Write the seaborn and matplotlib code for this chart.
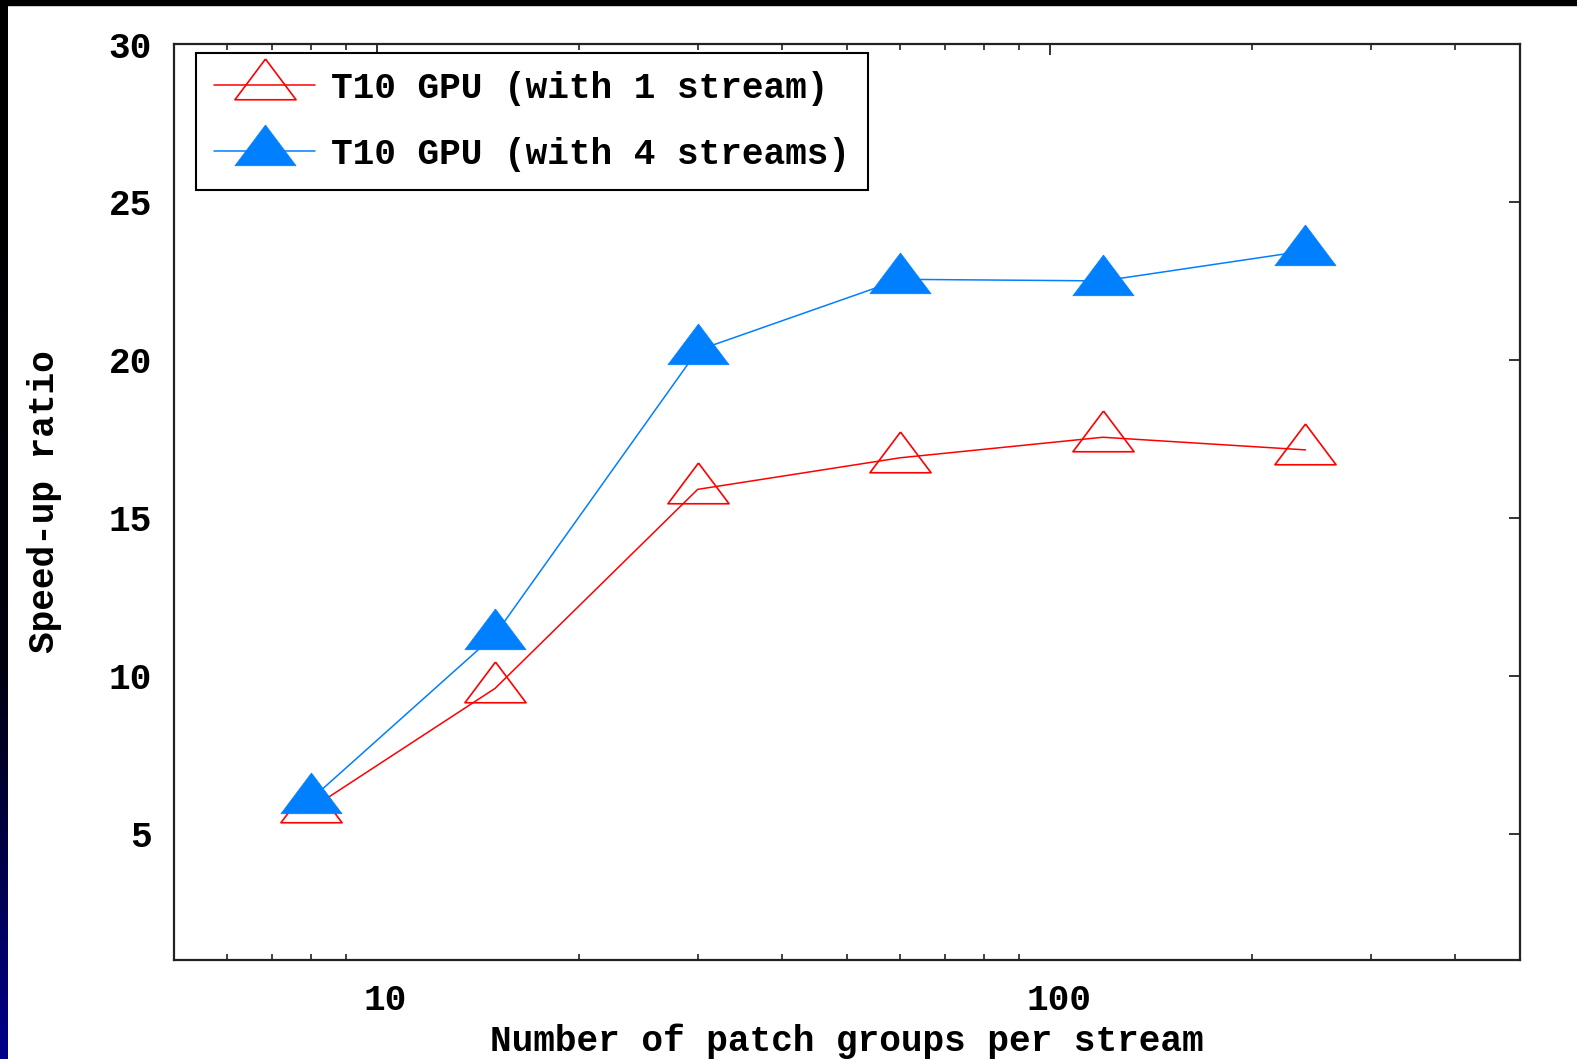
import numpy as np
import pandas as pd
import matplotlib
matplotlib.use("Agg")
import matplotlib.pyplot as plt
from matplotlib.colors import LinearSegmentedColormap
from matplotlib.patches import Rectangle
from matplotlib.transforms import ScaledTranslation
from matplotlib.ticker import FixedLocator, NullFormatter, LogLocator
import seaborn as sns

# ---- data ----
patch_groups = [8, 15, 30, 60, 120, 240]
speedup_1_stream = [5.8, 9.6, 15.9, 16.9, 17.55, 17.15]
speedup_4_streams = [6.1, 11.3, 20.3, 22.55, 22.5, 23.45]
label_1 = "T10 GPU (with 1 stream)"
label_4 = "T10 GPU (with 4 streams)"
x_label = "Number of patch groups per stream"
y_label = "Speed-up ratio"
y_ticks = [5, 10, 15, 20, 25, 30]
x_ticks = [10, 100]
x_tick_labels = ["10", "100"]

sns.set_style("white")
plt.rcParams["font.family"] = ["Liberation Mono", "DejaVu Sans Mono"]
plt.rcParams["font.weight"] = "bold"
plt.rcParams["axes.labelweight"] = "bold"
plt.rcParams["text.color"] = "black"
plt.rcParams["axes.labelcolor"] = "black"
FS = 26

W, H = 1577, 1059
fig = plt.figure(figsize=(W / 100, H / 100), dpi=100, facecolor="white")
fig.subplots_adjust(left=174 / W, right=1520 / W, bottom=1 - 960 / H, top=1 - 44 / H)
ax = fig.add_subplot(111)
ax.set_facecolor("white")

# gnuplot-like triangle marker: wider than tall, data point ~2/3 down
tri = [(0, 1.3), (-1.5, -0.7), (1.5, -0.7), (0, 1.3)]

df1 = pd.DataFrame({"x": patch_groups, "y": speedup_1_stream})
df4 = pd.DataFrame({"x": patch_groups, "y": speedup_4_streams})

red = "#ff0000"
blue = "#0080ff"

sns.lineplot(data=df1, x="x", y="y", ax=ax, color=red, lw=1.1,
             marker=tri, markersize=44, markerfacecolor="none",
             markeredgecolor=red, markeredgewidth=1.2, label=label_1)
sns.lineplot(data=df4, x="x", y="y", ax=ax, color=blue, lw=1.1,
             marker=tri, markersize=44, markerfacecolor=blue,
             markeredgecolor=blue, markeredgewidth=0.5, label=label_4)

ax.set_xscale("log")
ax.set_xlim(5, 500)
ax.set_ylim(1, 30)

ax.xaxis.set_major_locator(FixedLocator(x_ticks))
ax.set_xticklabels(x_tick_labels)
ax.xaxis.set_minor_locator(LogLocator(base=10, subs=np.arange(2, 10)))
ax.xaxis.set_minor_formatter(NullFormatter())
ax.set_yticks(y_ticks)
ax.set_yticklabels([str(v) for v in y_ticks])

ax.tick_params(axis="both", which="major", direction="in", length=8, width=1.3,
               color="#222222", top=True, right=True, labelsize=FS, labelcolor="black")
ax.tick_params(axis="x", which="major", pad=16.5)
ax.tick_params(axis="y", which="major", pad=16)
ax.tick_params(axis="x", which="minor", direction="in", length=4.5, width=1.2,
               color="#222222", top=True, bottom=True)
ax.tick_params(axis="y", which="minor", left=False, right=False)

for s in ax.spines.values():
    s.set_visible(True)
    s.set_color("#222222")
    s.set_linewidth(1.6)

ax.set_xlabel(x_label, fontsize=FS, color="black", fontweight="bold", va="baseline")
ax.xaxis.set_label_coords(0.5, -(1051 - 960) / 916)
ax.set_ylabel(y_label, fontsize=FS, color="black", fontweight="bold")
ax.yaxis.set_label_coords(-0.083, 0.5)

leg = ax.legend(loc="upper left", bbox_to_anchor=(22 / 1346, 1 - 9 / 916),
                borderaxespad=0, fontsize=FS, frameon=True, fancybox=False,
                edgecolor="black", framealpha=1, borderpad=0.5,
                handlelength=2.8, handletextpad=0.45, labelspacing=0.85,
                labelcolor="black")
leg.get_frame().set_linewidth(1.5)

# slide border: black top band and dark left band
fig.add_artist(Rectangle((0, 1 - 5 / H), 1, 5 / H, transform=fig.transFigure,
                         color="black", zorder=10))
band = fig.add_axes([0, 0, 8 / W, 1 - 5 / H])
band.set_axis_off()
cmap = LinearSegmentedColormap.from_list("slide", ["#000000", "#000010", "#00008c"])
grad = np.linspace(0, 1, 256).reshape(-1, 1) ** 1.5
band.imshow(grad, aspect="auto", cmap=cmap, extent=[0, 1, 1, 0])

# gnuplot places x tick labels slightly right of their ticks
fig.canvas.draw()
shift = ScaledTranslation(9 / 100, 0, fig.dpi_scale_trans)
for t in ax.xaxis.get_major_ticks():
    t.label1.set_transform(t.label1.get_transform() + shift)

fig.savefig("out.png", dpi=100, facecolor="white")
